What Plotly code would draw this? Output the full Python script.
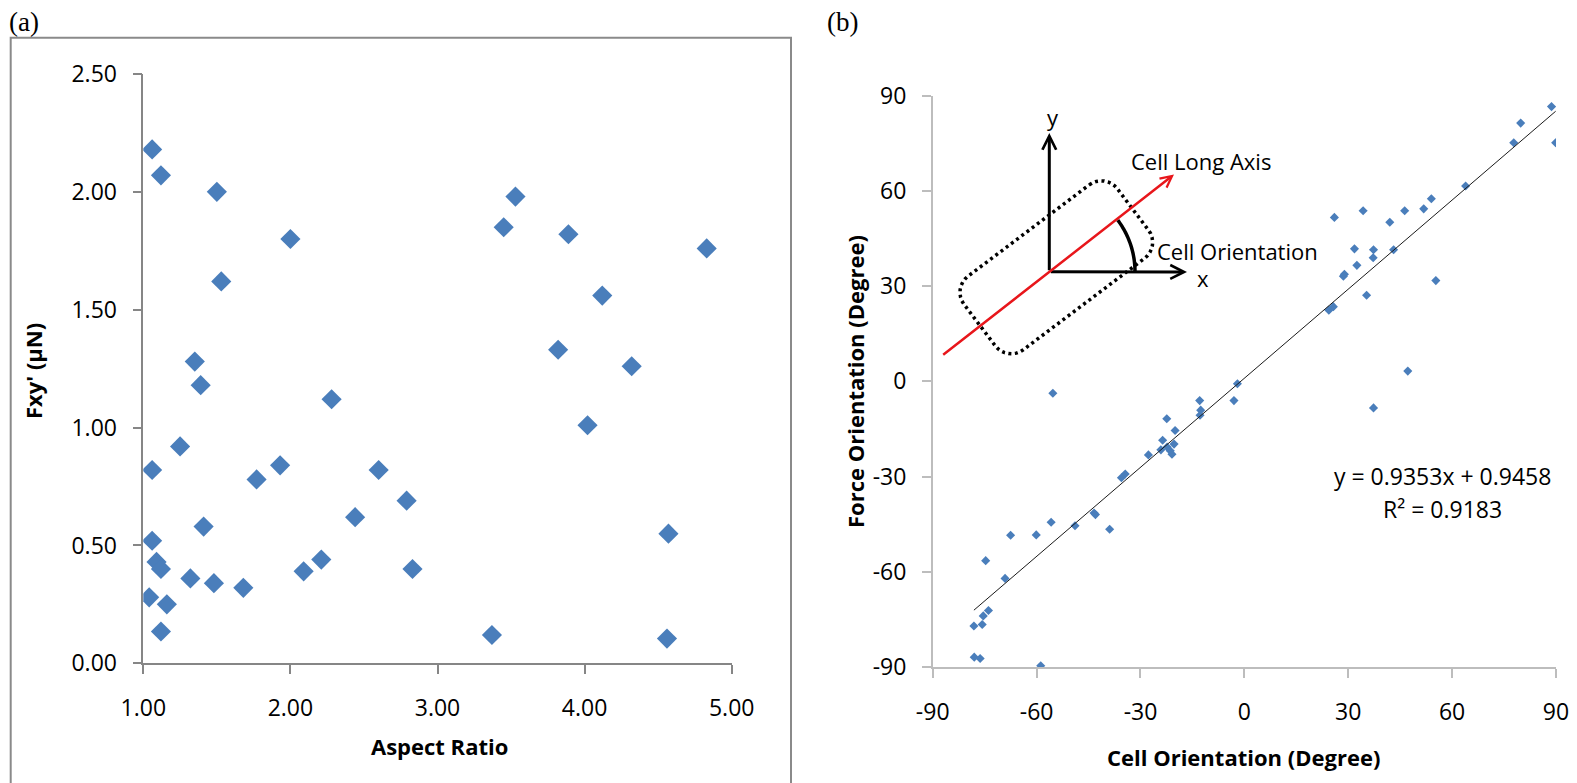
import math
import plotly.graph_objects as go

W, H = 1577, 783

# ---------------- data ----------------
aspect_ratio = [1.06, 1.12, 1.50, 2.00, 1.53, 1.35, 1.39, 2.28, 1.25, 1.06,
                1.77, 1.93, 2.60, 2.79, 2.44, 1.41, 1.06, 1.09, 1.12, 1.32,
                1.48, 1.68, 2.09, 2.21, 2.83, 1.04, 1.16, 1.12, 3.37, 4.56,
                4.57, 3.45, 3.53, 3.89, 4.83, 4.12, 3.82, 4.32, 4.02]
fxy_force = [2.18, 2.07, 2.00, 1.80, 1.62, 1.28, 1.18, 1.12, 0.92, 0.82,
             0.78, 0.84, 0.82, 0.69, 0.62, 0.58, 0.52, 0.43, 0.40, 0.36,
             0.34, 0.32, 0.39, 0.44, 0.40, 0.28, 0.25, 0.135, 0.12, 0.105,
             0.55, 1.85, 1.98, 1.82, 1.76, 1.56, 1.33, 1.26, 1.01]

cell_orientation = [88.7, 79.8, 77.8, 89.9, 63.9, 54.0, 51.8, 46.3, 34.3, 26.0,
                    42.0, 31.8, 37.3, 43.1, 37.2, 32.5, 28.9, 28.6, 55.3, 35.3,
                    25.7, 24.4, 47.2, 37.3, -2.0, -3.0, -12.9, -12.6, -12.8, -22.4,
                    -20.0, -23.6, -20.3, -22.3, -24.1, -21.4, -20.9, -27.7, -34.4, -35.5,
                    -55.3, -43.4, -43.0, -48.9, -55.8, -38.9, -60.1, -67.5, -74.7, -69.1,
                    -73.9, -75.4, -75.7, -78.1, -78.0, -76.3, -58.8]
force_orientation = [86.5, 81.3, 75.1, 75.1, 61.5, 57.5, 54.3, 53.7, 53.7, 51.6,
                     50.1, 41.7, 41.4, 41.4, 38.9, 36.5, 33.7, 33.1, 31.7, 27.1,
                     23.5, 22.4, 3.2, -8.4, -0.8, -6.1, -6.1, -9.1, -10.7, -11.8,
                     -15.5, -18.6, -19.8, -20.7, -21.6, -21.9, -23.0, -23.2, -29.2, -30.4,
                     -3.8, -41.5, -42.0, -45.5, -44.4, -46.6, -48.4, -48.5, -56.5, -62.1,
                     -72.2, -73.9, -76.6, -77.1, -86.9, -87.3, -89.6]

fit_slope = 0.9353
fit_intercept = 0.9458
fit_r2 = 0.9183

left_yticks = [0, 0.5, 1.0, 1.5, 2.0, 2.5]
left_xticks = [1, 2, 3, 4, 5]
right_ticks = [-90, -60, -30, 0, 30, 60, 90]
right_tick_labels = ["-90", "-60", "-30", "0", "30", "60", "90"]

# ---------------- helpers ----------------
def px(x):
    return x / W

def py(y):
    return 1 - y / H

FONT = "Open Sans"
BLUE = "#4a7ebb"

fig = go.Figure()

fig.add_trace(go.Scatter(
    x=aspect_ratio, y=fxy_force, mode="markers",
    marker=dict(symbol="diamond", size=15.5, color=BLUE),
    xaxis="x", yaxis="y", showlegend=False))

fig.add_trace(go.Scatter(
    x=cell_orientation, y=force_orientation, mode="markers",
    marker=dict(symbol="diamond", size=7, color=BLUE),
    xaxis="x2", yaxis="y2", showlegend=False))

xmin, xmax = min(cell_orientation), max(cell_orientation)
fig.add_trace(go.Scatter(
    x=[xmin, xmax], y=[fit_slope * xmin + fit_intercept, fit_slope * xmax + fit_intercept],
    mode="lines", line=dict(color="#1a1a1a", width=1),
    xaxis="x2", yaxis="y2", showlegend=False))

LEFT_AX = "#868686"
RIGHT_AX = "#bdbdbd"
tickfont = dict(family=FONT, size=23, color="black")

common = dict(showgrid=False, zeroline=False, showline=True, ticks="outside",
              ticklen=9, tickwidth=1.5, linewidth=1.5, tickfont=tickfont,
              fixedrange=True, automargin=False)

fig.update_layout(
    width=W, height=H,
    margin=dict(l=0, r=0, t=0, b=0, pad=0, autoexpand=False),
    paper_bgcolor="white", plot_bgcolor="white",
    xaxis=dict(domain=[px(143.3), px(731.7)], range=[1, 5], tickvals=left_xticks,
               tickformat=".2f", linecolor=LEFT_AX, tickcolor=LEFT_AX,
               anchor="y", ticklabelstandoff=14, **common),
    yaxis=dict(domain=[py(663.3), py(74)], range=[0, 2.5], tickvals=left_yticks,
               tickformat=".2f", linecolor=LEFT_AX, tickcolor=LEFT_AX,
               anchor="x", ticklabelstandoff=11, **common),
    xaxis2=dict(domain=[px(932.7), px(1556)], range=[-90, 90], tickvals=right_ticks,
                ticktext=right_tick_labels,
                linecolor=RIGHT_AX, tickcolor=RIGHT_AX, anchor="y2",
                ticklabelstandoff=15, **common),
    yaxis2=dict(domain=[py(667), py(95.5)], range=[-90, 90], tickvals=right_ticks,
                ticktext=right_tick_labels,
                linecolor=RIGHT_AX, tickcolor=RIGHT_AX, anchor="x2",
                ticklabelstandoff=11, **common),
)

annotations = []

def text(t, x, y, size=22, bold=False, angle=0, xanchor="center", family=FONT):
    annotations.append(dict(
        text=f"<b>{t}</b>" if bold else t, x=px(x), y=py(y), xref="paper", yref="paper",
        showarrow=False, xanchor=xanchor, yanchor="middle", textangle=angle,
        font=dict(family=family, size=size, color="black")))

# panel labels
text("(a)", 24, 22, size=27, family="Liberation Serif")
text("(b)", 842, 22, size=27, family="Liberation Serif")

# axis titles
text("Aspect Ratio", 439, 746, bold=True)
text("Fxy' (μN)", 33, 371, bold=True, angle=-90)
text("Cell Orientation (Degree)", 1243, 757, bold=True)
text("Force Orientation (Degree)", 855, 382, bold=True, angle=-90)

# fit equation
text(f"y = {fit_slope}x + {fit_intercept}", 1442.5, 476, size=23)
text(f"R² = {fit_r2}", 1442.5, 509, size=23)

# diagram labels
text("y", 1053, 117)
text("x", 1203, 278)
text("Cell Long Axis", 1129, 161, xanchor="left")
text("Cell Orientation", 1155, 251, xanchor="left")

def arrow(hx, hy, tx, ty, color, width):
    annotations.append(dict(
        text="", x=px(hx), y=py(hy), xref="paper", yref="paper",
        ax=tx - hx, ay=ty - hy, axref="pixel", ayref="pixel",
        showarrow=True, arrowhead=5, arrowsize=0.9, arrowwidth=width,
        arrowcolor=color, standoff=0, startstandoff=0))

O = (1049.3, 271.7)
arrow(1049.3, 133, O[0], O[1], "black", 3)
arrow(1187, 272, O[0], O[1], "black", 3)
arrow(1174, 174.5, 941.7, 356, "#e8161b", 2.5)

fig.update_layout(annotations=annotations)

shapes = []
# left panel frame
shapes.append(dict(type="path", xref="paper", yref="paper",
                   path=f"M{px(10.7)},{py(800)} L{px(10.7)},{py(37.7)} L{px(791)},{py(37.7)} L{px(791)},{py(800)}",
                   line=dict(color="#8a8a8a", width=2)))

# orientation arc
arc_pts = []
r = 85.7
for i in range(31):
    a = math.radians(37 * i / 30)
    arc_pts.append((O[0] + r * math.cos(a), O[1] - r * math.sin(a)))
arc_path = "M" + " L".join(f"{px(x)},{py(y)}" for x, y in arc_pts)
shapes.append(dict(type="path", xref="paper", yref="paper", path=arc_path,
                   line=dict(color="black", width=3.5)))

# dotted rounded rectangle (cell outline)
cx, cy = 1056.3, 267.3
L, Wd, rad = 96, 46, 20
th = math.radians(37)
eu = (math.cos(th), -math.sin(th))
ev = (math.sin(th), math.cos(th))
local = []
corners = [(L - rad, -Wd + rad, -90, 0), (L - rad, Wd - rad, 0, 90),
           (-L + rad, Wd - rad, 90, 180), (-L + rad, -Wd + rad, 180, 270)]
for (u0, v0, a0, a1) in corners:
    for k in range(9):
        a = math.radians(a0 + (a1 - a0) * k / 8)
        local.append((u0 + rad * math.cos(a), v0 + rad * math.sin(a)))
local.append(local[0])
rect_pts = [(cx + u * eu[0] + v * ev[0], cy + u * eu[1] + v * ev[1]) for u, v in local]
rect_path = "M" + " L".join(f"{px(x)},{py(y)}" for x, y in rect_pts)
shapes.append(dict(type="path", xref="paper", yref="paper", path=rect_path,
                   line=dict(color="black", width=3.5, dash="3px,3.5px")))

fig.update_layout(shapes=shapes)

fig.write_html("out.html")
